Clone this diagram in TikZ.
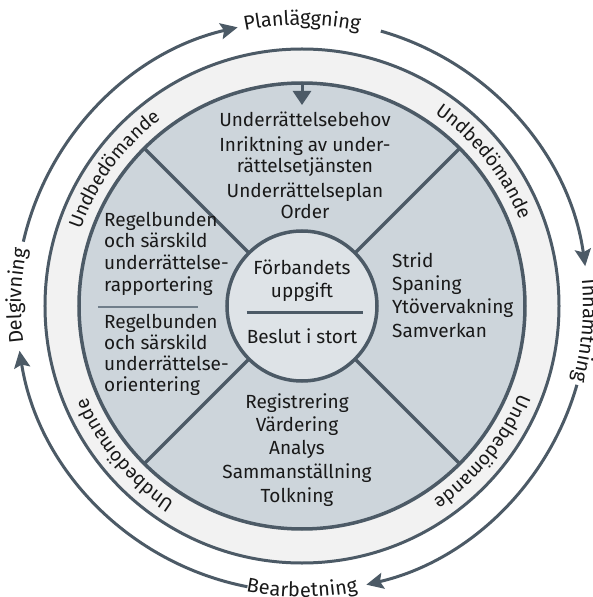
\documentclass[tikz,border=0pt]{standalone}
\usepackage{fontspec}
\setmainfont{Fira Sans}
\usetikzlibrary{arrows.meta,decorations.text}
\definecolor{ringfill}{RGB}{242,242,242}
\definecolor{diskfill}{RGB}{205,213,219}
\definecolor{corefill}{RGB}{222,227,231}
\definecolor{slate}{RGB}{76,90,102}
\definecolor{sepline}{RGB}{112,126,138}
\definecolor{ink}{RGB}{25,25,25}
\begin{document}
\begin{tikzpicture}[x=1pt,y=1pt,
  body/.style={font=\fontsize{19}{22}\selectfont, text=ink, inner sep=0pt, anchor=base},
  bodyleft/.style={body, anchor=base west},
  cyc/.style={slate, line width=3pt, -{Stealth[length=17pt,width=16pt,inset=3pt]}},
  ringlabel/.style={decorate, decoration={text along path, text align=center,
      text={|\fontsize{19}{22}\selectfont\color{ink}|#1}}},
  outlabel/.style={decorate, decoration={text along path, text align=center, raise=-5pt,
      text={|\fontsize{20}{24}\selectfont\color{ink}|#1}}}
]
\useasboundingbox (-302,-291) rectangle (290,306);
\fill[white] (-302,-291) rectangle (290,306);

% rings
\node[circle, draw=slate, line width=3pt, fill=ringfill, minimum size=514pt, inner sep=0pt, outer sep=0pt] (ring) at (0,0) {};
\node[circle, draw=slate, line width=3.5pt, fill=diskfill, minimum size=446pt, inner sep=0pt, outer sep=0pt] (disk) at (0,0) {};
\node[circle, draw=slate, line width=3.5pt, fill=corefill, minimum size=150pt, inner sep=0pt, outer sep=0pt] (core) at (0,0) {};

% sector dividers
\foreach \a in {45,135,225,315}
  \draw[slate, line width=3.5pt] (core.\a) -- (disk.\a);

% small arrow at top
\coordinate (toptip) at (0,201);
\draw[slate, line width=3pt, -{Triangle[length=14pt,width=18pt]}] (disk.north) -- (toptip);

% ring labels
\path[ringlabel=Undbedömande] (184:234) arc[start angle=184, end angle=104, radius=234];
\path[ringlabel=Undbedömande] (78.5:234) arc[start angle=78.5, end angle=-1.5, radius=234];
\path[ringlabel=Undbedömande] (1:234) arc[start angle=1, end angle=-79, radius=234];
\path[ringlabel=Undbedömande] (260:234) arc[start angle=260, end angle=180, radius=234];

% cycle arrows
\coordinate (c1) at (167:286);
\coordinate (c2) at (74:286);
\coordinate (c3) at (-16:286);
\coordinate (c4) at (259:286);
\draw[cyc] (c1) arc[start angle=167, end angle=103, radius=286];
\draw[cyc] (c2) arc[start angle=74, end angle=8, radius=286];
\draw[cyc] (c3) arc[start angle=-16, end angle=-77, radius=286];
\draw[cyc] (c4) arc[start angle=259, end angle=189, radius=286];

% cycle labels
\path[outlabel=Planläggning] (120:286) arc[start angle=120, end angle=60, radius=286];
\path[outlabel=Inhämtning] (25:286) arc[start angle=25, end angle=-35, radius=286];
\path[outlabel=Bearbetning] (-120:286) arc[start angle=-120, end angle=-60, radius=286];
\path[outlabel=Delgivning] (208:286) arc[start angle=208, end angle=148, radius=286];

% top sector
\node[body] (t1) at (3,179) {Underrättelsebehov};
\node[body] (t2) at (3,154) {Inriktning av under-};
\node[body] (t3) at (3,133) {rättelsetjänsten};
\node[body] (t4) at (3,108) {Underrättelseplan};
\node[body] (t5) at (3,87) {Order};

% right sector
\node[bodyleft] (r1) at (90,38) {Strid};
\node[bodyleft] (r2) at (90,16) {Spaning};
\node[bodyleft] (r3) at (90,-8) {Ytövervakning};
\node[bodyleft] (r4) at (90,-31) {Samverkan};

% bottom sector
\node[body] (b1) at (-5,-102) {Registrering};
\node[body] (b2) at (-5,-125) {Värdering};
\node[body] (b3) at (-5,-148) {Analys};
\node[body] (b4) at (-5,-172) {Sammanställning};
\node[body] (b5) at (-5,-196) {Tolkning};

% left sector
\node[bodyleft] (l1) at (-198,79) {Regelbunden};
\node[bodyleft] (l2) at (-198,58) {och särskild};
\node[bodyleft] (l3) at (-198,36) {underrättelse-};
\node[bodyleft] (l4) at (-198,14) {rapportering};
\coordinate (sepL) at (-204,-1);
\coordinate (sepR) at (-104,-1);
\draw[sepline, line width=1.2pt] (sepL) -- (sepR);
\node[bodyleft] (l5) at (-198,-22) {Regelbunden};
\node[bodyleft] (l6) at (-198,-43) {och särskild};
\node[bodyleft] (l7) at (-198,-64) {underrättelse-};
\node[bodyleft] (l8) at (-198,-85) {orientering};

% core
\node[body] (c01) at (0,31) {Förbandets};
\node[body] (c02) at (0,9) {uppgift};
\coordinate (coreL) at (-55,-6);
\coordinate (coreR) at (61,-6);
\draw[slate, line width=3pt] (coreL) -- (coreR);
\node[body] (c03) at (0,-37) {Beslut i stort};
\end{tikzpicture}
\end{document}
